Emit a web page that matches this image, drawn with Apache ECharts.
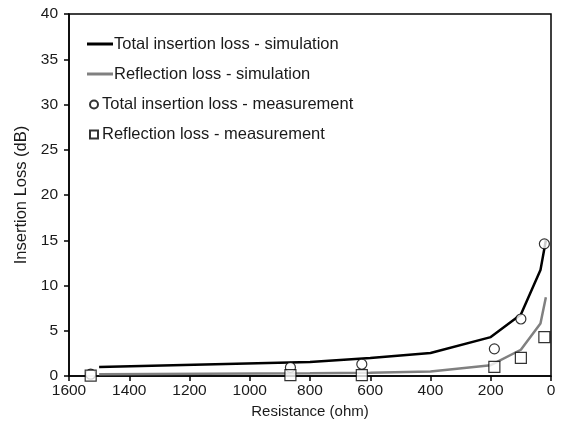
<!DOCTYPE html>
<html>
<head>
<meta charset="utf-8">
<script src="https://cdn.jsdelivr.net/npm/echarts@6/dist/echarts.min.js"></script>
<style>
html, body { margin: 0; padding: 0; background: #fff; }
#chart { width: 561px; height: 429px; }
</style>
</head>
<body>
<div id="chart"></div>
<script>
// simulation curves (resistance in ohm -> loss in dB)
var simR = [1500, 800, 600, 400, 200, 100, 35, 17]
var totalSim = [1.0, 1.55, 2.0, 2.55, 4.3, 6.8, 11.7, 15.0]
var reflSim = [0.2, 0.3, 0.35, 0.5, 1.2, 2.9, 5.8, 8.7]
// measured points
var measR = [1528, 865, 628, 188, 100, 22]
var totalMeas = [0.2, 0.95, 1.3, 3.0, 6.3, 14.6]
var reflMeas = [0.05, 0.1, 0.1, 1.0, 2.0, 4.3]

var names = ['Total insertion loss - simulation', 'Reflection loss - simulation',
  'Total insertion loss - measurement', 'Reflection loss - measurement']

function pairs (xs, ys) {
  return xs.map(function (x, i) { return [x, ys[i]] })
}

var font = 'Liberation Sans, Arial, sans-serif'
var txt = '#1a1a1a'

// one legend per row so each row sits where the original has it
function legendRow (name, top, left, w, h, icon, pad) {
  return {
    data: [{ name: name, icon: icon }],
    top: top,
    left: left,
    itemWidth: w,
    itemHeight: h,
    itemGap: 0,
    padding: 0,
    selectedMode: false,
    textStyle: { fontFamily: font, fontSize: 16.5, color: txt, padding: [0, 0, 0, pad] }
  }
}

var chart = echarts.init(document.getElementById('chart'))
chart.setOption({
  animation: false,
  grid: {
    left: 69, right: 10, top: 14, bottom: 53,
    show: true, borderColor: '#000', borderWidth: 1.5
  },
  legend: [
    legendRow(names[0], 35.5, 87, 26, 3, 'rect', -4),
    legendRow(names[1], 65.5, 87, 26, 3, 'rect', -4),
    legendRow(names[2], 96, 89, 8, 8, 'circle', -1),
    legendRow(names[3], 126, 89, 8, 8, 'rect', -1)
  ],
  xAxis: {
    type: 'value',
    min: 0, max: 1600, interval: 200,
    inverse: true,
    name: 'Resistance (ohm)',
    nameLocation: 'middle',
    nameGap: 26,
    nameTextStyle: { fontFamily: font, fontSize: 15, color: txt },
    axisLine: { onZero: false, lineStyle: { color: '#000', width: 1.5 } },
    axisTick: { show: true, length: 5, lineStyle: { color: '#000', width: 1.5 } },
    axisLabel: { fontFamily: font, fontSize: 15.5, color: txt, margin: 7, formatter: function (v) { return String(v) } },
    splitLine: { show: false }
  },
  yAxis: {
    type: 'value',
    position: 'left',
    min: 0, max: 40, interval: 5,
    name: 'Insertion Loss (dB)',
    nameLocation: 'middle',
    nameGap: 37,
    nameTextStyle: { fontFamily: font, fontSize: 16.5, color: txt },
    axisLine: { show: true, onZero: false, lineStyle: { color: '#000', width: 1.5 } },
    axisTick: { show: true, length: 5, lineStyle: { color: '#000', width: 1.5 } },
    axisLabel: { fontFamily: font, fontSize: 15.5, color: txt, margin: 11 },
    splitLine: { show: false }
  },
  series: [
    {
      name: names[0],
      type: 'line',
      data: pairs(simR, totalSim),
      showSymbol: false,
      symbol: 'none',
      lineStyle: { color: '#000', width: 2.5 },
      itemStyle: { color: '#000' },
      z: 3
    },
    {
      name: names[1],
      type: 'line',
      data: pairs(simR, reflSim),
      showSymbol: false,
      symbol: 'none',
      lineStyle: { color: '#808080', width: 2.5 },
      itemStyle: { color: '#808080' },
      z: 2
    },
    {
      name: names[2],
      type: 'scatter',
      data: pairs(measR, totalMeas),
      symbol: 'circle',
      symbolSize: 10,
      itemStyle: { color: '#fff', borderColor: '#000', borderWidth: 1.2 },
      z: 4
    },
    {
      name: names[3],
      type: 'scatter',
      data: pairs(measR, reflMeas),
      symbol: 'rect',
      symbolSize: 11,
      itemStyle: { color: '#fff', borderColor: '#000', borderWidth: 1.2 },
      z: 5
    }
  ]
})
</script>
</body>
</html>
